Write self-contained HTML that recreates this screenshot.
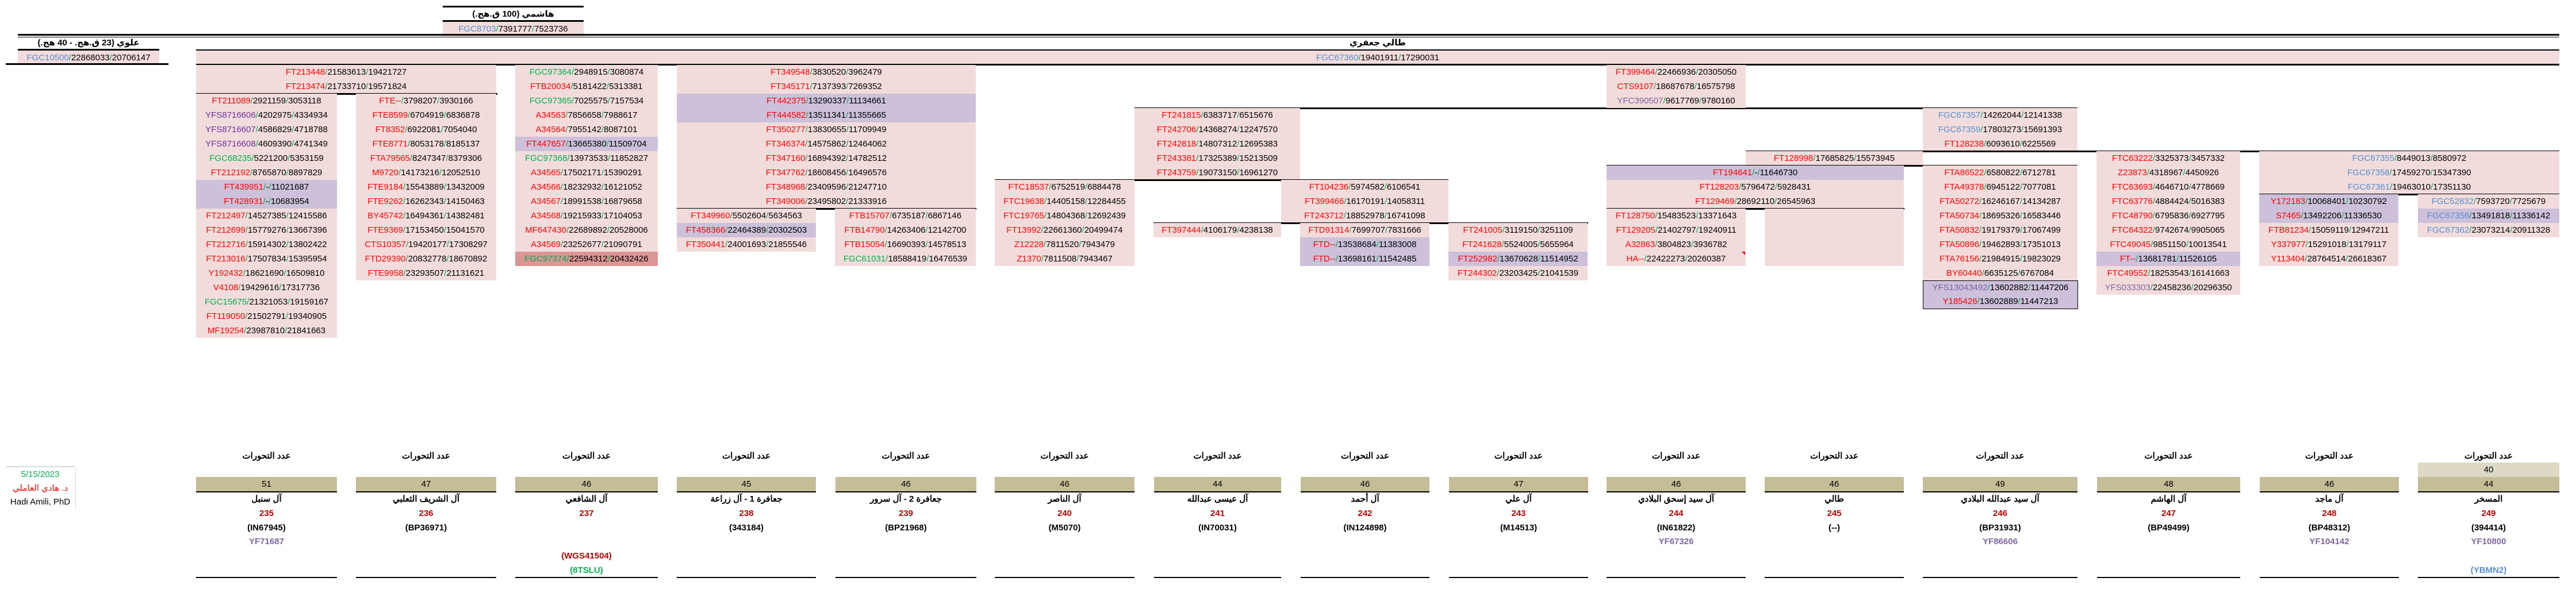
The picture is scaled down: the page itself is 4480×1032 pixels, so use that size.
<!DOCTYPE html>
<html><head><meta charset="utf-8">
<style>
*{margin:0;padding:0;box-sizing:border-box}
body{width:4480px;height:1032px;position:relative;overflow:hidden;background:#fff;font:15px "Liberation Sans","Noto Sans CJK SC",sans-serif;color:#000}
.c{position:absolute;text-align:center;white-space:nowrap}
.blk{position:absolute;background:#f2dcdb}
.blk div{height:25px;line-height:25px;text-align:center;white-space:nowrap}
.blk div.h{background:#ccc0da}
.blk div.d{background:#da9694}
.ln{position:absolute;height:3px;background:#000}
i{font-style:normal}
i.r{color:#ff0000}i.g{color:#00b050}i.u{color:#558ed5}i.p{color:#7030a0}i.q{color:#8064a2}
s{text-decoration:none;color:#00b050}
.ar{font-family:"Liberation Sans","DejaVu Sans",sans-serif;font-weight:bold;font-size:15px}
.bc{position:absolute;text-align:center;white-space:nowrap;font-weight:bold;font-size:15px}
.tan{position:absolute;background:#c4bd97;height:25px;line-height:25px;text-align:center;border-bottom:2px solid #000}
</style></head><body>

<!-- Hashemi -->
<div class="ln" style="left:770px;top:10px;width:245px"></div>
<div class="c ar" style="left:770px;top:13px;width:245px;line-height:24px">هاشمي (100 ق.هج.)</div>
<div class="ln" style="left:770px;top:35px;width:245px"></div>
<div class="blk" style="left:770px;top:38px;width:245px"><div><i class=u>FGC8703</i><s>/</s>7391777<s>/</s>7523736</div></div>

<!-- double line -->
<div class="ln" style="left:31px;top:59px;width:4420px"></div>
<div class="ln" style="left:31px;top:64px;width:4420px;height:1px"></div>

<!-- Alawi -->
<div class="c ar" style="left:31px;top:63px;width:246px;line-height:24px">علوي (23 ق.هج. - 40 هج.)</div>
<div class="ln" style="left:31px;top:85px;width:246px"></div>
<div class="blk" style="left:31px;top:88px;width:246px"><div><i class=u>FGC10500</i><s>/</s>22868033<s>/</s>20706147</div></div>
<div class="ln" style="left:10px;top:110px;width:283px"></div>

<!-- Jafari -->
<div class="c ar" style="left:341px;top:63px;width:4110px;line-height:24px">طالي جعفري</div>
<div class="ln" style="left:341px;top:86px;width:4110px"></div>
<div class="blk" style="left:341px;top:88px;width:4110px"><div><i class=u>FGC67360</i><s>/</s>19401911<s>/</s>17290031</div></div>
<div class="ln" style="left:341px;top:111px;width:4110px"></div>

<!-- block 1 -->
<div class="blk" style="left:341px;top:113px;width:522px">
<div><i class=r>FT213448</i><s>/</s>21583613<s>/</s>19421727</div>
<div><i class=r>FT213474</i><s>/</s>21733710<s>/</s>19571824</div></div>
<div class="ln" style="left:341px;top:162px;width:524px"></div>

<!-- A -->
<div class="blk" style="left:341px;top:163px;width:245px">
<div><i class=r>FT211089</i><s>/</s>2921159<s>/</s>3053118</div>
<div><i class=p>YFS8716606</i><s>/</s>4202975<s>/</s>4334934</div>
<div><i class=p>YFS8716607</i><s>/</s>4586829<s>/</s>4718788</div>
<div><i class=p>YFS8716608</i><s>/</s>4609390<s>/</s>4741349</div>
<div><i class=g>FGC68235</i><s>/</s>5221200<s>/</s>5353159</div>
<div><i class=r>FT212192</i><s>/</s>8765870<s>/</s>8897829</div>
<div class=h><i class=r>FT439951</i><s>/</s>-<s>/</s>11021687</div>
<div class=h><i class=r>FT428931</i><s>/</s>-<s>/</s>10683954</div>
<div><i class=r>FT212497</i><s>/</s>14527385<s>/</s>12415586</div>
<div><i class=r>FT212699</i><s>/</s>15779276<s>/</s>13667396</div>
<div><i class=r>FT212716</i><s>/</s>15914302<s>/</s>13802422</div>
<div><i class=r>FT213016</i><s>/</s>17507834<s>/</s>15395954</div>
<div><i class=r>Y192432</i><s>/</s>18621690<s>/</s>16509810</div>
<div><i class=r>V4108</i><s>/</s>19429616<s>/</s>17317736</div>
<div><i class=g>FGC15675</i><s>/</s>21321053<s>/</s>19159167</div>
<div><i class=r>FT119050</i><s>/</s>21502791<s>/</s>19340905</div>
<div><i class=r>MF19254</i><s>/</s>23987810<s>/</s>21841663</div></div>

<!-- B -->
<div class="blk" style="left:619px;top:163px;width:244px">
<div><i class=r>FTE--</i><s>/</s>3798207<s>/</s>3930166</div>
<div><i class=r>FTE8599</i><s>/</s>6704919<s>/</s>6836878</div>
<div><i class=r>FT8352</i><s>/</s>6922081<s>/</s>7054040</div>
<div><i class=r>FTE8771</i><s>/</s>8053178<s>/</s>8185137</div>
<div><i class=r>FTA79565</i><s>/</s>8247347<s>/</s>8379306</div>
<div><i class=r>M9720</i><s>/</s>14173216<s>/</s>12052510</div>
<div><i class=r>FTE9184</i><s>/</s>15543889<s>/</s>13432009</div>
<div><i class=r>FTE9262</i><s>/</s>16262343<s>/</s>14150463</div>
<div><i class=r>BY45742</i><s>/</s>16494361<s>/</s>14382481</div>
<div><i class=r>FTE9369</i><s>/</s>17153450<s>/</s>15041570</div>
<div><i class=r>CTS10357</i><s>/</s>19420177<s>/</s>17308297</div>
<div><i class=r>FTD29390</i><s>/</s>20832778<s>/</s>18670892</div>
<div><i class=r>FTE9958</i><s>/</s>23293507<s>/</s>21131621</div></div>

<!-- C -->
<div class="blk" style="left:896px;top:113px;width:248px">
<div><i class=g>FGC97364</i><s>/</s>2948915<s>/</s>3080874</div>
<div><i class=r>FTB20034</i><s>/</s>5181422<s>/</s>5313381</div>
<div><i class=g>FGC97365</i><s>/</s>7025575<s>/</s>7157534</div>
<div><i class=r>A34563</i><s>/</s>7856658<s>/</s>7988617</div>
<div><i class=r>A34564</i><s>/</s>7955142<s>/</s>8087101</div>
<div class=h><i class=r>FT447657</i><s>/</s>13665380<s>/</s>11509704</div>
<div><i class=g>FGC97368</i><s>/</s>13973533<s>/</s>11852827</div>
<div><i class=r>A34565</i><s>/</s>17502171<s>/</s>15390291</div>
<div><i class=r>A34566</i><s>/</s>18232932<s>/</s>16121052</div>
<div><i class=r>A34567</i><s>/</s>18991538<s>/</s>16879658</div>
<div><i class=r>A34568</i><s>/</s>19215933<s>/</s>17104053</div>
<div><i class=r>MF647430</i><s>/</s>22689892<s>/</s>20528006</div>
<div><i class=r>A34569</i><s>/</s>23252677<s>/</s>21090791</div>
<div class=d><i class=g>FGC97374</i><s>/</s>22594312<s>/</s>20432426</div></div>

<!-- D -->
<div class="blk" style="left:1177px;top:113px;width:520px">
<div><i class=r>FT349548</i><s>/</s>3830520<s>/</s>3962479</div>
<div><i class=r>FT345171</i><s>/</s>7137393<s>/</s>7269352</div>
<div class=h><i class=r>FT442375</i><s>/</s>13290337<s>/</s>11134661</div>
<div class=h><i class=r>FT444582</i><s>/</s>13511341<s>/</s>11355665</div>
<div><i class=r>FT350277</i><s>/</s>13830655<s>/</s>11709949</div>
<div><i class=r>FT346374</i><s>/</s>14575862<s>/</s>12464062</div>
<div><i class=r>FT347160</i><s>/</s>16894392<s>/</s>14782512</div>
<div><i class=r>FT347762</i><s>/</s>18608456<s>/</s>16496576</div>
<div><i class=r>FT348968</i><s>/</s>23409596<s>/</s>21247710</div>
<div><i class=r>FT349006</i><s>/</s>23495802<s>/</s>21333916</div></div>
<div class="ln" style="left:1177px;top:362px;width:521px"></div>
<div class="blk" style="left:1177px;top:363px;width:242px">
<div><i class=r>FT349960</i><s>/</s>5502604<s>/</s>5634563</div>
<div class=h><i class=r>FT458366</i><s>/</s>22464389<s>/</s>20302503</div>
<div><i class=r>FT350441</i><s>/</s>24001693<s>/</s>21855546</div></div>
<div class="blk" style="left:1452px;top:363px;width:245px">
<div><i class=r>FTB15707</i><s>/</s>6735187<s>/</s>6867146</div>
<div><i class=r>FTB14790</i><s>/</s>14263406<s>/</s>12142700</div>
<div><i class=r>FTB15054</i><s>/</s>16690393<s>/</s>14578513</div>
<div><i class=g>FGC61031</i><s>/</s>18588419<s>/</s>16476539</div></div>

<!-- row7 line -->
<div class="ln" style="left:1973px;top:187px;width:1640px"></div>
<!-- F -->
<div class="blk" style="left:1973px;top:188px;width:288px">
<div><i class=r>FT241815</i><s>/</s>6383717<s>/</s>6515676</div>
<div><i class=r>FT242706</i><s>/</s>14368274<s>/</s>12247570</div>
<div><i class=r>FT242818</i><s>/</s>14807312<s>/</s>12695383</div>
<div><i class=r>FT243381</i><s>/</s>17325389<s>/</s>15213509</div>
<div><i class=r>FT243759</i><s>/</s>19073150<s>/</s>16961270</div></div>
<div class="ln" style="left:1730px;top:312px;width:789px"></div>
<!-- E -->
<div class="blk" style="left:1730px;top:313px;width:243px">
<div><i class=r>FTC18537</i><s>/</s>6752519<s>/</s>6884478</div>
<div><i class=r>FTC19638</i><s>/</s>14405158<s>/</s>12284455</div>
<div><i class=r>FTC19765</i><s>/</s>14804368<s>/</s>12692439</div>
<div><i class=r>FT13992</i><s>/</s>22661360<s>/</s>20499474</div>
<div><i class=r>Z12228</i><s>/</s>7811520<s>/</s>7943479</div>
<div><i class=r>Z1370</i><s>/</s>7811508<s>/</s>7943467</div></div>
<!-- G -->
<div class="blk" style="left:2228px;top:313px;width:291px">
<div><i class=r>FT104236</i><s>/</s>5974582<s>/</s>6106541</div>
<div><i class=r>FT399466</i><s>/</s>16170191<s>/</s>14058311</div>
<div><i class=r>FT243712</i><s>/</s>18852978<s>/</s>16741098</div></div>
<div class="ln" style="left:2006px;top:387px;width:756px"></div>
<div class="blk" style="left:2006px;top:388px;width:222px">
<div><i class=r>FT397444</i><s>/</s>4106179<s>/</s>4238138</div></div>
<div class="blk" style="left:2261px;top:388px;width:225px">
<div><i class=r>FTD91314</i><s>/</s>7699707<s>/</s>7831666</div>
<div class=h><i class=r>FTD--</i><s>/</s>13538684<s>/</s>11383008</div>
<div class=h><i class=r>FTD--</i><s>/</s>13698161<s>/</s>11542485</div></div>
<div class="blk" style="left:2519px;top:388px;width:242px">
<div><i class=r>FT241005</i><s>/</s>3119150<s>/</s>3251109</div>
<div><i class=r>FT241628</i><s>/</s>5524005<s>/</s>5655964</div>
<div class=h><i class=r>FT252982</i><s>/</s>13670628<s>/</s>11514952</div>
<div><i class=r>FT244302</i><s>/</s>23203425<s>/</s>21041539</div></div>

<!-- I -->
<div class="blk" style="left:2794px;top:113px;width:242px">
<div><i class=r>FT399464</i><s>/</s>22466936<s>/</s>20305050</div>
<div><i class=r>CTS9107</i><s>/</s>18687678<s>/</s>16575798</div>
<div><i class=q>YFC390507</i><s>/</s>9617769<s>/</s>9780160</div></div>
<!-- J -->
<div class="blk" style="left:3344px;top:188px;width:269px">
<div><i class=u>FGC67357</i><s>/</s>14262044<s>/</s>12141338</div>
<div><i class=u>FGC67359</i><s>/</s>17803273<s>/</s>15691393</div>
<div><i class=r>FT128238</i><s>/</s>6093610<s>/</s>6225569</div></div>
<div class="ln" style="left:3036px;top:262px;width:1415px"></div>
<div class="blk" style="left:3036px;top:263px;width:308px">
<div><i class=r>FT128998</i><s>/</s>17685825<s>/</s>15573945</div></div>
<div class="ln" style="left:2794px;top:287px;width:819px"></div>
<!-- L -->
<div class="blk" style="left:2794px;top:288px;width:517px">
<div class=h><i class=r>FT194641</i><s>/</s>-<s>/</s>11646730</div>
<div><i class=r>FT128203</i><s>/</s>5796472<s>/</s>5928431</div>
<div><i class=r>FT129469</i><s>/</s>28692110<s>/</s>26545963</div></div>
<div class="ln" style="left:2794px;top:362px;width:518px"></div>
<div class="blk" style="left:2794px;top:363px;width:242px">
<div><i class=r>FT128750</i><s>/</s>15483523<s>/</s>13371643</div>
<div><i class=r>FT129205</i><s>/</s>21402797<s>/</s>19240911</div>
<div><i class=r>A32863</i><s>/</s>3804823<s>/</s>3936782</div>
<div><i class=r>HA--</i><s>/</s>22422273<s>/</s>20260387</div></div>
<div style="position:absolute;left:3029px;top:438px;width:0;height:0;border-left:6px solid transparent;border-top:6px solid #f00"></div>
<div class="blk" style="left:3069px;top:363px;width:242px;height:100px"></div>
<!-- M -->
<div class="blk" style="left:3344px;top:288px;width:269px">
<div><i class=r>FTA86522</i><s>/</s>6580822<s>/</s>6712781</div>
<div><i class=r>FTA49378</i><s>/</s>6945122<s>/</s>7077081</div>
<div><i class=r>FTA50272</i><s>/</s>16246167<s>/</s>14134287</div>
<div><i class=r>FTA50734</i><s>/</s>18695326<s>/</s>16583446</div>
<div><i class=r>FTA50832</i><s>/</s>19179379<s>/</s>17067499</div>
<div><i class=r>FTA50896</i><s>/</s>19462893<s>/</s>17351013</div>
<div><i class=r>FTA76156</i><s>/</s>21984915<s>/</s>19823029</div>
<div><i class=r>BY60440</i><s>/</s>6635125<s>/</s>6767084</div></div>
<div class="blk" style="left:3344px;top:488px;width:270px;border:1px solid #000;background:#ccc0da">
<div style="height:24px;line-height:24px"><i class=q>YFS13043492</i><s>/</s>13602882<s>/</s>11447206</div>
<div style="height:24px;line-height:24px"><i class=r>Y185426</i><s>/</s>13602889<s>/</s>11447213</div></div>
<!-- N -->
<div class="blk" style="left:3646px;top:263px;width:250px">
<div><i class=r>FTC63222</i><s>/</s>3325373<s>/</s>3457332</div>
<div><i class=r>Z23873</i><s>/</s>4318967<s>/</s>4450926</div>
<div><i class=r>FTC63693</i><s>/</s>4646710<s>/</s>4778669</div>
<div><i class=r>FTC63776</i><s>/</s>4884424<s>/</s>5016383</div>
<div><i class=r>FTC48790</i><s>/</s>6795836<s>/</s>6927795</div>
<div><i class=r>FTC64322</i><s>/</s>9742674<s>/</s>9905065</div>
<div><i class=r>FTC49045</i><s>/</s>9851150<s>/</s>10013541</div>
<div class=h><i class=r>FT--</i><s>/</s>13681781<s>/</s>11526105</div>
<div><i class=r>FTC49552</i><s>/</s>18253543<s>/</s>16141663</div>
<div><i class=q>YFS033303</i><s>/</s>22458236<s>/</s>20296350</div></div>
<!-- O -->
<div class="blk" style="left:3929px;top:263px;width:522px">
<div><i class=u>FGC67355</i><s>/</s>8449013<s>/</s>8580972</div>
<div><i class=u>FGC67358</i><s>/</s>17459270<s>/</s>15347390</div>
<div><i class=u>FGC67361</i><s>/</s>19463010<s>/</s>17351130</div></div>
<div class="ln" style="left:3929px;top:337px;width:522px"></div>
<div class="blk" style="left:3929px;top:338px;width:242px">
<div class=h><i class=r>Y172183</i><s>/</s>10068401<s>/</s>10230792</div>
<div class=h><i class=r>S7465</i><s>/</s>13492206<s>/</s>11336530</div>
<div><i class=r>FTB81234</i><s>/</s>15059119<s>/</s>12947211</div>
<div><i class=r>Y337977</i><s>/</s>15291018<s>/</s>13179117</div>
<div><i class=r>Y113404</i><s>/</s>28764514<s>/</s>26618367</div></div>
<div class="blk" style="left:4205px;top:338px;width:246px">
<div><i class=u>FGC52832</i><s>/</s>7593720<s>/</s>7725679</div>
<div class=h><i class=u>FGC67356</i><s>/</s>13491818<s>/</s>11336142</div>
<div><i class=u>FGC67362</i><s>/</s>23073214<s>/</s>20911328</div></div>

<!-- date box -->
<div style="position:absolute;left:10px;top:811px;width:120px;height:2px;background:#d9d9d9"></div>
<div style="position:absolute;left:131px;top:815px;width:1px;height:72px;background:#d9d9d9"></div>
<div class="c" style="left:10px;top:814px;width:120px;line-height:24px;color:#00b050">5/15/2023</div>
<div class="c" style="left:10px;top:838px;width:120px;line-height:24px;color:#ff0000">د. هادي العاملي</div>
<div class="c" style="left:10px;top:862px;width:120px;line-height:24px">Hadi Amili, PhD</div>

<!-- bottom columns -->
<div id="bot"></div>
<script>
var cols=[[341,586,"51","آل سنبل","235","(IN67945)","YF71687"],
[619,863,"47","آل الشريف الثعلبي","236","(BP36971)",""],
[896,1144,"46","آل الشافعي","237","",""],
[1177,1419,"45","جعافرة 1 - آل زراعة","238","(343184)",""],
[1453,1698,"46","جعافرة 2 - آل سرور","239","(BP21968)",""],
[1730,1973,"46","آل الناصر","240","(M5070)",""],
[2007,2228,"44","آل عيسى عبدالله","241","(IN70031)",""],
[2262,2486,"46","آل أحمد","242","(IN124898)",""],
[2520,2762,"47","آل علي","243","(M14513)",""],
[2794,3036,"46","آل سيد إسحق البلادي","244","(IN61822)","YF67326"],
[3069,3311,"46","طالي","245","(--)",""],
[3344,3613,"49","آل سيد عبدالله البلادي","246","(BP31931)","YF86606"],
[3647,3896,"48","آل الهاشم","247","(BP49499)",""],
[3930,4172,"46","آل ماجد","248","(BP48312)","YF104142"],
[4205,4451,"44","المسخر","249","(394414)","YF10800"]];
var h="";
cols.forEach(function(c,i){
 var l=c[0],w=c[1]-c[0];
 var st='left:'+l+'px;width:'+w+'px;';
 h+='<div class="bc" style="'+st+'top:782px;line-height:24px">عدد التحورات</div>';
 h+='<div class="tan" style="'+st+'top:830px;height:27px">'+c[2]+'</div>';
 h+='<div class="bc" style="'+st+'top:857px;line-height:24px">'+c[3]+'</div>';
 h+='<div class="bc" style="'+st+'top:882px;line-height:24px;color:#c00000">'+c[4]+'</div>';
 if(c[5])h+='<div class="bc" style="'+st+'top:907px;line-height:24px">'+c[5]+'</div>';
 if(c[6])h+='<div class="bc" style="'+st+'top:931px;line-height:24px;color:#8064a2">'+c[6]+'</div>';
 h+='<div style="position:absolute;'+st+'top:1004px;height:2px;background:#000"></div>';
});
h+='<div class="bc" style="left:896px;width:248px;top:956px;line-height:24px;color:#c00000">(WGS41504)</div>';
h+='<div class="bc" style="left:896px;width:248px;top:981px;line-height:24px;color:#00b050">(8TSLU)</div>';
h+='<div class="bc" style="left:4205px;width:246px;top:981px;line-height:24px;color:#558ed5">(YBMN2)</div>';
h+='<div style="position:absolute;left:4205px;width:246px;top:805px;height:25px;line-height:25px;text-align:center;background:#ddd9c4">40</div>';
document.getElementById("bot").innerHTML=h;
</script>
</body></html>
